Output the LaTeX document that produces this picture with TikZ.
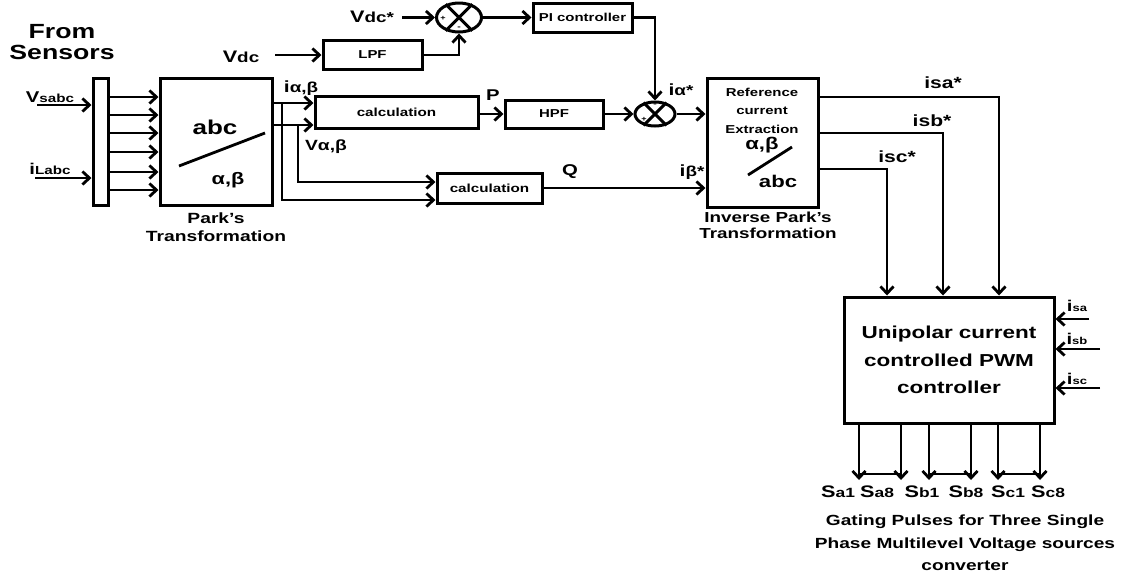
\documentclass[tikz,border=0pt]{standalone}
\usepackage{fontspec}
\setmainfont{Liberation Sans}[FakeStretch=1.3]
\usetikzlibrary{arrows.meta,shapes.geometric,calc}
\newcommand\fsz[2]{\fontsize{#1}{#2}\selectfont}
\begin{document}
\begin{tikzpicture}[x=1pt,y=-1pt,
  every node/.style={font=\bfseries},
  blk/.style={draw, line width=3pt, rectangle, inner sep=0pt},
  sumj/.style={draw, line width=3pt, ellipse, inner sep=0pt},
  arr/.style={line width=2.8pt, -{Straight Barb[length=7pt,width=13pt]}},
  ln/.style={line width=2.8pt},
  lbl/.style={inner sep=0pt, align=center}]
\useasboundingbox (0,0) rectangle (1126,574);

% ---- blocks
\node[blk, minimum width=15pt, minimum height=127pt] (bus) at (100.5,141.5) {};
\node[blk, minimum width=112pt, minimum height=127pt] (park) at (216,141.5) {};
\node[blk, minimum width=99pt, minimum height=29pt, font=\bfseries\fsz{11.5}{11.5}] (lpf) at (372.5,55) {LPF};
\node[blk, minimum width=99pt, minimum height=29pt, font=\bfseries\fsz{11.5}{11.5}] (pi) at (582.5,17.5) {PI controller};
\node[sumj, minimum width=45pt, minimum height=29pt] (s1) at (459,17.5) {};
\node[blk, minimum width=163pt, minimum height=32pt, font=\bfseries\fsz{11.7}{11.7}] (calc1) at (396.5,112) {calculation};
\node[blk, minimum width=98pt, minimum height=28pt, font=\bfseries\fsz{11.5}{11.5}] (hpf) at (554,114) {HPF};
\node[sumj, minimum width=40pt, minimum height=24pt] (s2) at (655,114) {};
\node[blk, minimum width=105pt, minimum height=30pt, font=\bfseries\fsz{11.7}{11.7}] (calc2) at (489.5,188) {calculation};
\node[blk, minimum width=111pt, minimum height=129pt] (inv) at (762.5,142.5) {};
\node[blk, minimum width=210pt, minimum height=126pt, align=center, font=\bfseries\fsz{17.3}{27.5}] (pwm) at (949,360)
  {Unipolar current\\controlled PWM\\controller};

% crosses in summing junctions
\draw[line width=3pt] (s1.45) -- (s1.225) (s1.135) -- (s1.315);
\draw[line width=3pt] (s2.45) -- (s2.225) (s2.135) -- (s2.315);
\node[lbl, font=\bfseries\fsz{7}{7}] (s1p) at (443,18) {+};
\node[lbl, font=\bfseries\fsz{8}{8}] (s1m) at (459,28) {-};
\node[lbl, font=\bfseries\fsz{8}{8}] (s2m) at (655,105) {-};
\node[lbl, font=\bfseries\fsz{7}{7}] (s2p) at (644,119) {+};

% ---- texts inside Park blocks
\node[lbl, font=\bfseries\fsz{20}{20}] (pabc) at (215,127) {abc};
\node[lbl, font=\bfseries\fsz{16.7}{16.7}] (pab) at (228,180) {α,β};
\draw[ln] (179,166) -- (265,133);
\node[lbl, font=\bfseries\fsz{11.5}{18.5}] (iref) at (762,110.5) {Reference\\current\\Extraction};
\node[lbl, font=\bfseries\fsz{17}{17}] (iab) at (762,145) {α,β};
\node[lbl, font=\bfseries\fsz{17}{17}] (iabc) at (778,181) {abc};
\draw[ln] (748,175) -- (792,147);

% ---- free labels
\node[lbl, font=\bfseries\fsz{20.5}{21.5}] (from) at (62,42) {From\\Sensors};
\node[lbl, font=\bfseries\fsz{14.8}{18}] (parkl) at (216,227) {Park’s\\Transformation};
\node[lbl, font=\bfseries\fsz{14.5}{15.5}] (invl) at (768,225.5) {Inverse Park’s\\Transformation};
\node[lbl] (vdcsl) at (372,17) {\fsz{16.7}{16.7}V\fsz{14.5}{14.5}dc*};
\node[lbl] (vdcl) at (241,57) {\fsz{16.7}{16.7}V\fsz{14.5}{14.5}dc};
\node[lbl] (vsl) at (50,97) {\fsz{15.6}{15.6}V\fsz{11.7}{11.7}sabc};
\node[lbl] (ill) at (50,169) {\fsz{15.6}{15.6}i\fsz{11.7}{11.7}Labc};
\node[lbl] (iabl) at (301,88) {\fsz{16.2}{16.2}i\fsz{14.5}{14.5}α,β};
\node[lbl, font=\bfseries\fsz{14.8}{14.8}] (vabl) at (326,147) {Vα,β};
\node[lbl, font=\bfseries\fsz{15.6}{15.6}] (pl) at (493,95) {P};
\node[lbl, font=\bfseries\fsz{15.6}{15.6}] (ql) at (570,172) {Q};
\node[lbl] (ias) at (681,90) {\fsz{16.2}{16.2}i\fsz{14.5}{14.5}α*};
\node[lbl] (ibs) at (692,172) {\fsz{16.2}{16.2}i\fsz{14.5}{14.5}β*};
\node[lbl, font=\bfseries\fsz{16.2}{16.2}] (isas) at (943,83) {isa*};
\node[lbl, font=\bfseries\fsz{16.2}{16.2}] (isbs) at (932,121) {isb*};
\node[lbl, font=\bfseries\fsz{16.2}{16.2}] (iscs) at (897,157) {isc*};
\node[lbl] (isa) at (1077,306) {\fsz{15.6}{15.6}i\fsz{10}{10}sa};
\node[lbl] (isb) at (1077,339) {\fsz{15.6}{15.6}i\fsz{10}{10}sb};
\node[lbl] (isc) at (1077,379) {\fsz{15.6}{15.6}i\fsz{10}{10}sc};
\node[lbl] (sa1) at (838,492) {\fsz{16.7}{16.7}S\fsz{13.4}{13.4}a1};
\node[lbl] (sa8) at (877,492) {\fsz{16.7}{16.7}S\fsz{13.4}{13.4}a8};
\node[lbl] (sb1) at (922,492) {\fsz{16.7}{16.7}S\fsz{13.4}{13.4}b1};
\node[lbl] (sb8) at (966,492) {\fsz{16.7}{16.7}S\fsz{13.4}{13.4}b8};
\node[lbl] (sc1) at (1008,492) {\fsz{16.7}{16.7}S\fsz{13.4}{13.4}c1};
\node[lbl] (sc8) at (1048,492) {\fsz{16.7}{16.7}S\fsz{13.4}{13.4}c8};
\node[lbl, font=\bfseries\fsz{14.7}{22.5}] (gate) at (965,543) {Gating Pulses for Three Single\\Phase Multilevel Voltage sources\\converter};

% ---- free ends
\coordinate (vsin) at (37,105);
\coordinate (ilin) at (35,178);
\coordinate (vdcsin) at (402,17.5);
\coordinate (vdcin) at (275,55);
\coordinate (br1) at (282,103);
\coordinate (br2) at (298,125);
\coordinate (isain) at (1089,319);
\coordinate (isbin) at (1100,349);
\coordinate (iscin) at (1100,388);

% ---- connectors
\draw[arr] (vsin) -- (bus.west |- vsin);
\draw[arr] (ilin) -- (bus.west |- ilin);
\foreach \yy in {97,115,133,152,172,190}
  \draw[arr] (bus.east |- 0,\yy) -- (park.west |- 0,\yy);
\draw[arr] (vdcsin) -- (s1.west);
\draw[arr] (s1.east) -- (pi.west);
\draw[arr] (vdcin) -- (lpf.west);
\draw[arr] (lpf.east) -| (s1.south);
\draw[arr] (pi.east) -| (s2.north);
\draw[arr] (park.east |- br1) -- (calc1.west |- br1);
\draw[arr] (park.east |- br2) -- (calc1.west |- br2);
\draw[arr] (br1) |- (calc2.west |- 0,200);
\draw[arr] (br2) |- (calc2.west |- 0,182);
\draw[arr] (calc1.east |- hpf.west) -- (hpf.west);
\draw[arr] (hpf.east) -- (s2.west);
\draw[arr] (s2.east) -- (inv.west |- s2.east);
\draw[arr] (calc2.east) -- (inv.west |- calc2.east);
\draw[arr] (inv.east |- 0,97) -| (pwm.north -| 999,0);
\draw[arr] (inv.east |- 0,133) -| (pwm.north -| 943,0);
\draw[arr] (inv.east |- 0,169) -| (pwm.north -| 887,0);
\draw[arr] (isain) -- (pwm.east |- isain);
\draw[arr] (isbin) -- (pwm.east |- isbin);
\draw[arr] (iscin) -- (pwm.east |- iscin);
\foreach \xx in {859,901,929,971,998,1040}
  \draw[arr] (pwm.south -| \xx,0) -- (\xx,480);
\draw[ln] (859,474) -- (901,474) (929,474) -- (971,474) (998,474) -- (1040,474);
\end{tikzpicture}
\end{document}
